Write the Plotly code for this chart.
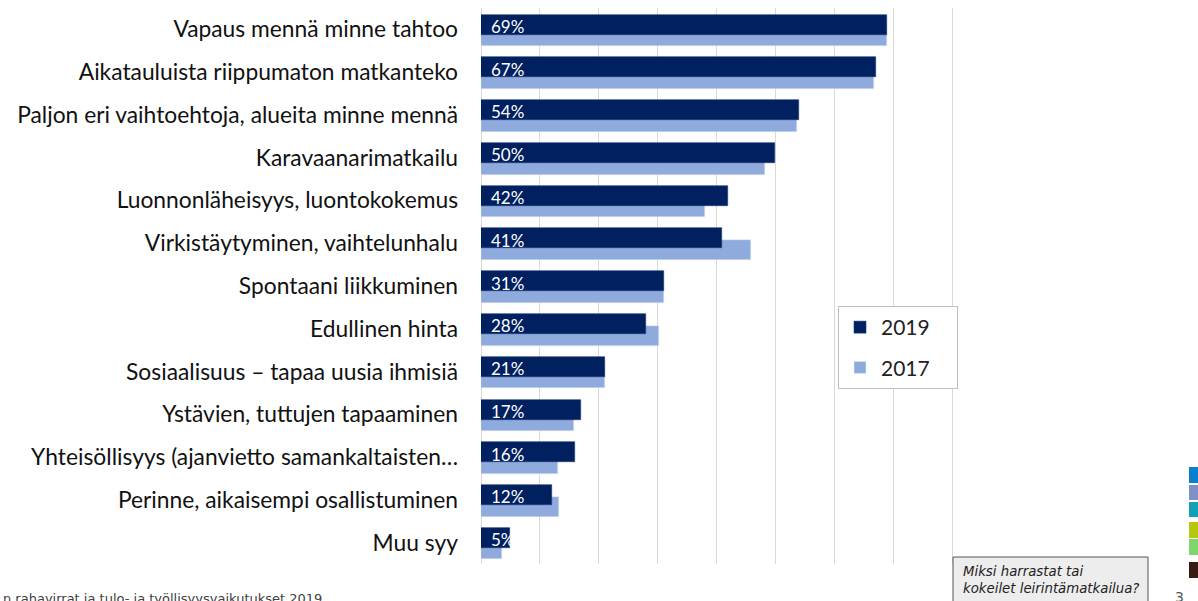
import plotly.graph_objects as go

categories = [
    "Vapaus mennä minne tahtoo",
    "Aikatauluista riippumaton matkanteko",
    "Paljon eri vaihtoehtoja, alueita minne mennä",
    "Karavaanarimatkailu",
    "Luonnonläheisyys, luontokokemus",
    "Virkistäytyminen, vaihtelunhalu",
    "Spontaani liikkuminen",
    "Edullinen hinta",
    "Sosiaalisuus – tapaa uusia ihmisiä",
    "Ystävien, tuttujen tapaaminen",
    "Yhteisöllisyys (ajanvietto samankaltaisten…",
    "Perinne, aikaisempi osallistuminen",
    "Muu syy",
]
values_2019 = [69, 67, 54, 50, 42, 41, 31, 28, 21, 17, 16, 12, 5]
values_2017 = [69, 66.8, 53.7, 48.2, 38.0, 45.9, 31.1, 30.3, 21.1, 15.8, 13.0, 13.2, 3.6]
labels_2019 = ["69%", "67%", "54%", "50%", "42%", "41%", "31%", "28%", "21%", "17%", "16%", "12%", "5%"]
x_ticks = [0, 10, 20, 30, 40, 50, 60, 70, 80]
X_MAX = 80.5

W, H = 1198, 601
L, T, B = 481, 8, 37
PW = round(471 * X_MAX / 80)
R = W - L - PW
PH = H - T - B


def px(x):
    return (x - L) / PW


def py(y):
    return (H - B - y) / PH


C2019 = "#00205F"
C2017 = "#8FAADC"
FONT = "Lato"
NB = "\u00a0"

fig = go.Figure()
fig.add_trace(go.Bar(
    y=categories, x=values_2017, orientation="h", name="2017" + NB * 4,
    marker=dict(color=C2017), width=0.468, offset=-0.075,
    legendrank=2, legendgroup="b", hoverinfo="x+y",
))
fig.add_trace(go.Bar(
    y=categories, x=values_2019, orientation="h", name="2019" + NB * 4,
    marker=dict(color=C2019, line=dict(color="#1c3a78", width=0.6)),
    width=0.468, offset=-0.345,
    legendrank=1, legendgroup="a", hoverinfo="x+y",
))

annotations = []
for cat, lab in zip(categories, labels_2019):
    annotations.append(dict(
        x=0, y=cat, xref="x", yref="y", text=lab, showarrow=False,
        xanchor="left", yanchor="middle", xshift=8, yshift=3,
        font=dict(family=FONT, size=17, color="white"),
    ))

# footer text (cut at left/bottom as in the reference)
annotations.append(dict(
    x=px(1), y=py(589), xref="paper", yref="paper", xanchor="left", yanchor="top",
    text="n rahavirrat ja tulo- ja työllisyysvaikutukset 2019", showarrow=False,
    font=dict(family="DejaVu Sans", size=13, color="#404040"),
))
# question box text
annotations.append(dict(
    x=px(961), y=py(562), xref="paper", yref="paper", xanchor="left", yanchor="top",
    text="<i>Miksi harrastat tai<br>kokeilet leirintämatkailua?</i>", showarrow=False,
    align="left", font=dict(family="DejaVu Sans", size=13.3, color="#222222"),
))
annotations.append(dict(
    x=px(1179), y=py(587), xref="paper", yref="paper", xanchor="center", yanchor="top",
    text="3", showarrow=False, font=dict(family="DejaVu Sans", size=14, color="#555555"),
))

shapes = [
    dict(type="rect", xref="paper", yref="paper", x0=px(953), x1=px(1148),
         y0=py(557), y1=py(606), fillcolor="#EDEDED", line=dict(color="#555555", width=1), layer="above"),
]
side_colors = ["#0A7FD0", "#7F8FC8", "#12A0B6", "#B5C80E", "#7ED66A", "#3A1A14"]
side_rows = [(467, 483), (485, 500), (502, 517), (522, 538), (539, 555), (562, 578)]
for col, (a, b) in zip(side_colors, side_rows):
    shapes.append(dict(type="rect", xref="paper", yref="paper", x0=px(1189), x1=px(1200),
                       y0=py(b), y1=py(a), fillcolor=col, line=dict(width=0), layer="above"))

fig.update_layout(
    width=W, height=H,
    margin=dict(l=L, r=R, t=T, b=B, pad=0),
    paper_bgcolor="white", plot_bgcolor="white",
    barmode="overlay", bargap=0,
    showlegend=True,
    legend=dict(
        x=px(838), y=py(306), xanchor="left", yanchor="top",
        bordercolor="#BFBFBF", borderwidth=1, bgcolor="white",
        font=dict(family=FONT, size=21, color="#222222"),
        traceorder="grouped", tracegroupgap=10,
        itemwidth=32,
    ),
    xaxis=dict(range=[0, X_MAX], tickvals=x_ticks, showticklabels=False,
               showgrid=True, gridcolor="#D9D9D9", gridwidth=1,
               zeroline=True, zerolinecolor="#D9D9D9", zerolinewidth=1,
               showline=False, fixedrange=True),
    yaxis=dict(type="category", range=[12.5, -0.5], showgrid=False, showline=False,
               ticks="", ticklabelstandoff=22,
               tickfont=dict(family=FONT, size=22.8, color="#111111"), fixedrange=True),
    annotations=annotations,
    shapes=shapes,
)

fig.write_html("out.html", config={"displayModeBar": False},
               post_script="document.body.style.margin='0';document.body.style.overflow='hidden';")
